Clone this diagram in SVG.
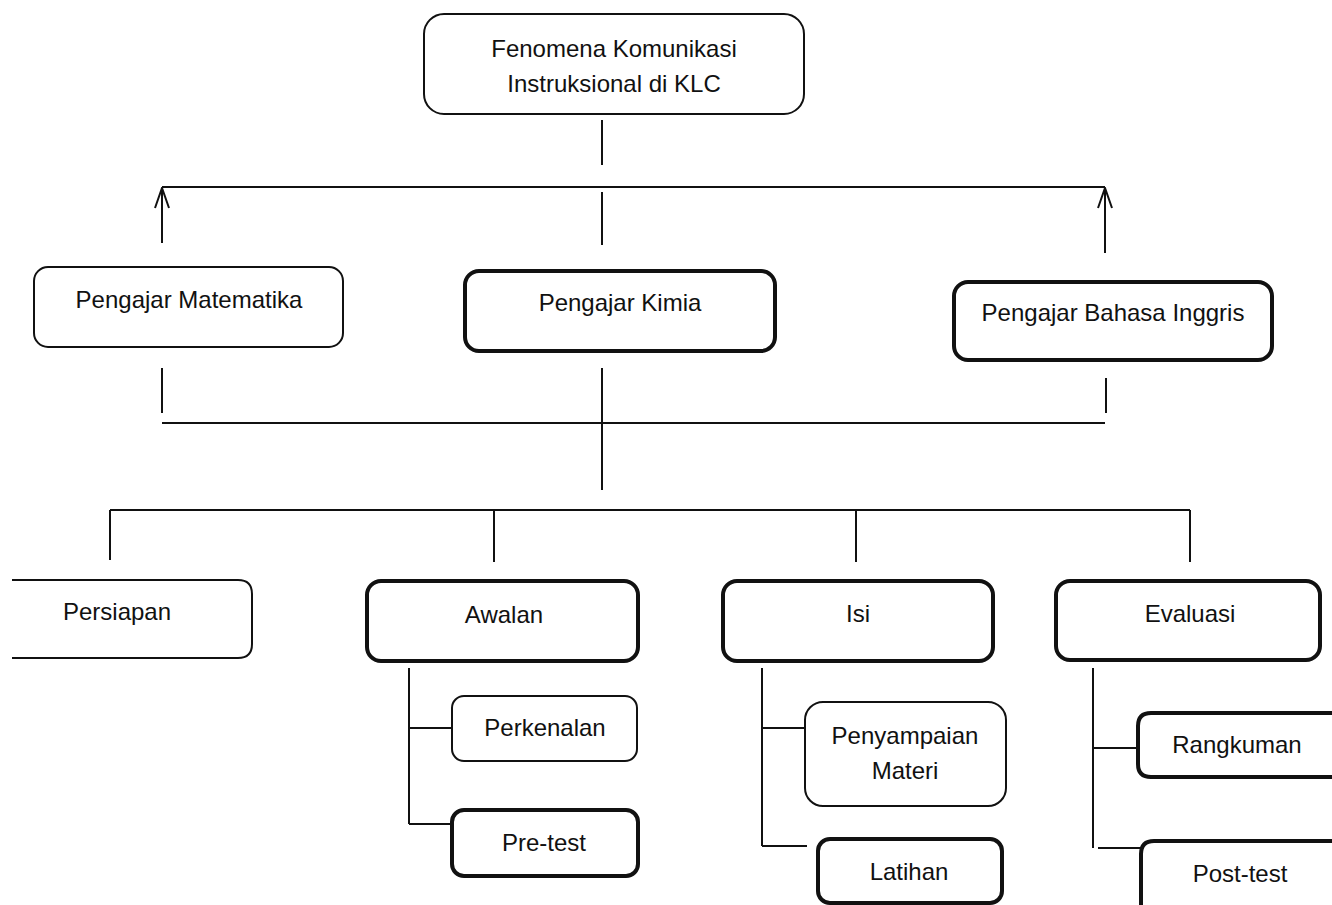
<svg xmlns="http://www.w3.org/2000/svg" width="1332" height="905" viewBox="0 0 1332 905">
<defs>
<style>
.box{fill:#fff;stroke:#111;stroke-width:2}
.thick{stroke-width:4}
.lbl{font-family:"Liberation Sans",Arial,sans-serif;font-size:24px;fill:#111;text-anchor:middle}
.ln{stroke:#111;stroke-width:2;fill:none}
</style>
<marker id="arr" viewBox="0 0 22 16" refX="21" refY="8" markerWidth="22" markerHeight="16" markerUnits="userSpaceOnUse" orient="auto">
<path d="M1 1 L21 8 L1 15" fill="none" stroke="#111" stroke-width="2"/>
</marker>
</defs>
<rect width="1332" height="905" fill="#fff"/>
<g id="connectors">
<line class="ln" x1="602" y1="120" x2="602" y2="165"/>
<line class="ln" x1="162" y1="187" x2="1105" y2="187"/>
<line class="ln" x1="602" y1="192" x2="602" y2="245"/>
<line class="ln" x1="162" y1="243" x2="162" y2="188" marker-end="url(#arr)"/>
<line class="ln" x1="1105" y1="253" x2="1105" y2="188" marker-end="url(#arr)"/>
<line class="ln" x1="162" y1="368" x2="162" y2="413"/>
<line class="ln" x1="602" y1="368" x2="602" y2="490"/>
<line class="ln" x1="1106" y1="378" x2="1106" y2="413"/>
<line class="ln" x1="162" y1="423" x2="1105" y2="423"/>
<line class="ln" x1="110" y1="510" x2="1190" y2="510"/>
<line class="ln" x1="110" y1="510" x2="110" y2="560"/>
<line class="ln" x1="494" y1="510" x2="494" y2="562"/>
<line class="ln" x1="856" y1="510" x2="856" y2="562"/>
<line class="ln" x1="1190" y1="510" x2="1190" y2="562"/>
<line class="ln" x1="409" y1="668" x2="409" y2="824"/>
<line class="ln" x1="409" y1="728" x2="452" y2="728"/>
<line class="ln" x1="409" y1="824" x2="452" y2="824"/>
<line class="ln" x1="762" y1="668" x2="762" y2="846"/>
<line class="ln" x1="762" y1="728" x2="804" y2="728"/>
<line class="ln" x1="762" y1="846" x2="807" y2="846"/>
<line class="ln" x1="1093" y1="668" x2="1093" y2="848"/>
<line class="ln" x1="1093" y1="748" x2="1137" y2="748"/>
<line class="ln" x1="1098" y1="848" x2="1140" y2="848"/>
</g>
<g id="n-root">
<rect class="box" x="424" y="14" width="380" height="100" rx="20"/>
<text class="lbl" x="614" y="57">Fenomena Komunikasi</text>
<text class="lbl" x="614" y="92">Instruksional di KLC</text>
</g>
<g id="n-mat">
<rect class="box" x="34" y="267" width="309" height="80" rx="14"/>
<text class="lbl" x="189" y="308">Pengajar Matematika</text>
</g>
<g id="n-kim">
<rect class="box thick" x="465" y="271" width="310" height="80" rx="14"/>
<text class="lbl" x="620" y="311">Pengajar Kimia</text>
</g>
<g id="n-ing">
<rect class="box thick" x="954" y="282" width="318" height="78" rx="14"/>
<text class="lbl" x="1113" y="321">Pengajar Bahasa Inggris</text>
</g>
<g id="n-persiapan">
<path class="box" d="M12 580 H238 Q252 580 252 594 V644 Q252 658 238 658 H12"/>
<text class="lbl" x="117" y="620">Persiapan</text>
</g>
<g id="n-awalan">
<rect class="box thick" x="367" y="581" width="271" height="80" rx="14"/>
<text class="lbl" x="504" y="623">Awalan</text>
</g>
<g id="n-isi">
<rect class="box thick" x="723" y="581" width="270" height="80" rx="14"/>
<text class="lbl" x="858" y="622">Isi</text>
</g>
<g id="n-evaluasi">
<rect class="box thick" x="1056" y="581" width="264" height="79" rx="14"/>
<text class="lbl" x="1190" y="622">Evaluasi</text>
</g>
<g id="n-perkenalan">
<rect class="box" x="452" y="696" width="185" height="65" rx="12"/>
<text class="lbl" x="545" y="736">Perkenalan</text>
</g>
<g id="n-pretest">
<rect class="box thick" x="452" y="810" width="186" height="66" rx="12"/>
<text class="lbl" x="544" y="851">Pre-test</text>
</g>
<g id="n-penyampaian">
<rect class="box" x="805" y="702" width="201" height="104" rx="18"/>
<text class="lbl" x="905" y="744">Penyampaian</text>
<text class="lbl" x="905" y="779">Materi</text>
</g>
<g id="n-latihan">
<rect class="box thick" x="818" y="839" width="184" height="64" rx="12"/>
<text class="lbl" x="909" y="880">Latihan</text>
</g>
<g id="n-rangkuman">
<path class="box thick" d="M1340 713 H1151 Q1138 713 1138 726 V764 Q1138 777 1151 777 H1340"/>
<text class="lbl" x="1237" y="753">Rangkuman</text>
</g>
<g id="n-posttest">
<path class="box thick" d="M1340 841 H1154 Q1141 841 1141 854 V910"/>
<text class="lbl" x="1240" y="882">Post-test</text>
</g>
</svg>
